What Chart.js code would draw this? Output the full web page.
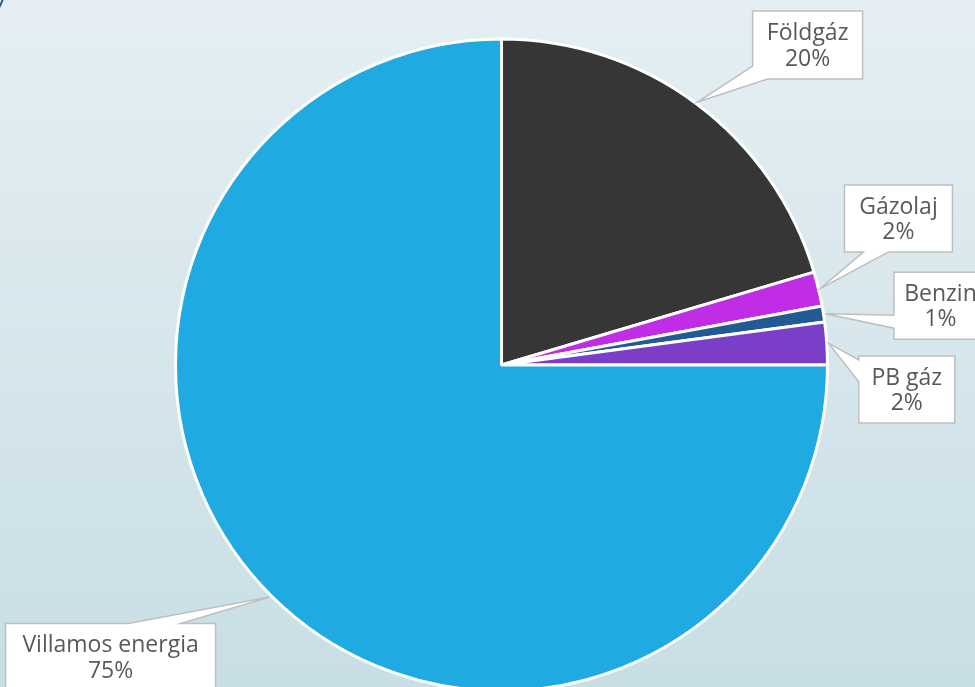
<!DOCTYPE html>
<html>
<head>
<meta charset="utf-8">
<script src="https://cdn.jsdelivr.net/npm/chart.js@4.4.0/dist/chart.umd.min.js"></script>
<style>
  html, body { margin: 0; padding: 0; overflow: hidden; }
  body { width: 975px; height: 687px; }
  canvas { display: block; }
</style>
</head>
<body>
<canvas id="energyChart" width="975" height="687"></canvas>
<script>
// Data (share of energy use, %)
const categories = ['Földgáz', 'Gázolaj', 'Benzin', 'PB gáz', 'Villamos energia'];
const shares = [20.4, 1.7, 0.8, 2.1, 75.0];
const sliceColors = ['#363636', '#c12de7', '#225a93', '#7b3ec8', '#1faae2'];

// Callout boxes: offset of box centre from the slice tip, box size,
// and where the pointer joins the box outline (distance along the perimeter, clockwise from top-left)
const calloutLayout = [
  { dx: 110, dy: -57, w: 110, h: 68, wedge: [273, 301] },
  { dx: 78, dy: -70, w: 108, h: 67, wedge: [239, 264] },
  { dx: 115, dy: -8, w: 93, h: 67, wedge: [264, 277] },
  { dx: 78, dy: 46, w: 96, h: 67, wedge: [300, 322] },
  { dx: -159, dy: 60, w: 210, h: 67, wedge: [123, 175] }
];

function perimPoint(b, t) {
  if (t <= b.w) return [b.l + t, b.t];
  if (t <= b.w + b.h) return [b.l + b.w, b.t + (t - b.w)];
  if (t <= 2 * b.w + b.h) return [b.l + b.w - (t - b.w - b.h), b.t + b.h];
  return [b.l, b.t + b.h - (t - 2 * b.w - b.h)];
}

const backgroundPlugin = {
  id: 'background',
  beforeDraw(chart) {
    const { ctx, width, height } = chart;
    ctx.save();
    const g = ctx.createLinearGradient(0, 0, 0, height);
    g.addColorStop(0, '#e5eff3');
    g.addColorStop(1, '#c8dee5');
    ctx.fillStyle = g;
    ctx.fillRect(0, 0, width, height);
    // little bit of the slide frame in the corner
    ctx.strokeStyle = '#2d5f86';
    ctx.lineWidth = 2;
    ctx.beginPath();
    ctx.moveTo(-1, 8);
    ctx.quadraticCurveTo(1, 4, 3, -1);
    ctx.stroke();
    ctx.restore();
  }
};

const calloutPlugin = {
  id: 'callouts',
  afterDatasetsDraw(chart) {
    const { ctx } = chart;
    const meta = chart.getDatasetMeta(0);
    const total = shares.reduce((a, b) => a + b, 0);
    ctx.save();
    meta.data.forEach((arc, i) => {
      const p = arc.getProps(['x', 'y', 'startAngle', 'endAngle', 'outerRadius'], true);
      const mid = (p.startAngle + p.endAngle) / 2;
      const tipX = p.x + Math.cos(mid) * (p.outerRadius + 2);
      const tipY = p.y + Math.sin(mid) * (p.outerRadius + 2);
      const lay = calloutLayout[i];
      const box = { l: tipX + lay.dx - lay.w / 2, t: tipY + lay.dy - lay.h / 2, w: lay.w, h: lay.h };

      const corners = [0, box.w, box.w + box.h, 2 * box.w + box.h];
      const [a, b] = lay.wedge;
      const pts = [];
      corners.filter(c => c < a).forEach(c => pts.push(perimPoint(box, c)));
      pts.push(perimPoint(box, a));
      pts.push([tipX, tipY]);
      pts.push(perimPoint(box, b));
      corners.filter(c => c > b).forEach(c => pts.push(perimPoint(box, c)));

      ctx.beginPath();
      pts.forEach((pt, k) => k ? ctx.lineTo(pt[0], pt[1]) : ctx.moveTo(pt[0], pt[1]));
      ctx.closePath();
      ctx.fillStyle = '#ffffff';
      ctx.fill();
      ctx.strokeStyle = '#bfbfbf';
      ctx.lineWidth = 1.5;
      ctx.stroke();

      ctx.fillStyle = '#595959';
      ctx.font = '23px "Open Sans"';
      ctx.textAlign = 'center';
      ctx.textBaseline = 'middle';
      const cx = box.l + box.w / 2;
      ctx.fillText(categories[i], cx, box.t + box.h * 0.33);
      ctx.fillText(Math.round(shares[i] / total * 100) + '%', cx, box.t + box.h * 0.71);
    });
    ctx.restore();
  }
};

new Chart(document.getElementById('energyChart'), {
  type: 'pie',
  data: {
    labels: categories,
    datasets: [{
      data: shares,
      backgroundColor: sliceColors,
      borderColor: '#ffffff',
      borderWidth: 3,
      radius: 326
    }]
  },
  options: {
    responsive: false,
    animation: false,
    devicePixelRatio: 1,
    layout: { padding: { left: 28, top: 43, right: 0, bottom: 0 } },
    plugins: {
      legend: { display: false },
      tooltip: { enabled: false }
    }
  },
  plugins: [backgroundPlugin, calloutPlugin]
});
</script>
</body>
</html>
